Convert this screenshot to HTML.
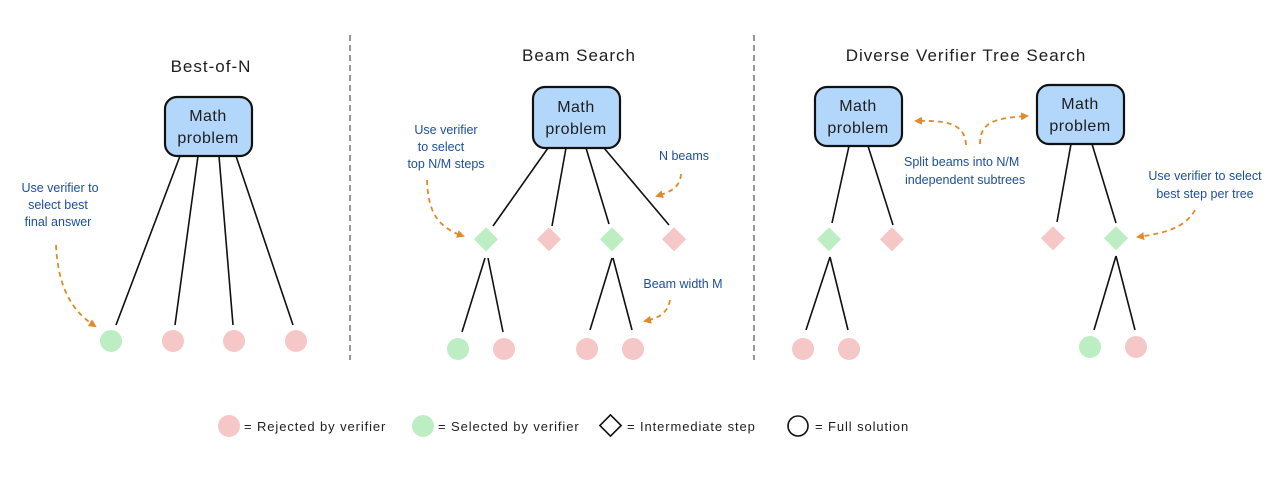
<!DOCTYPE html>
<html><head><meta charset="utf-8"><style>
html,body{margin:0;padding:0;background:#fff;}
svg{display:block;font-family:"Liberation Sans",sans-serif;}
.t{font-size:17px;fill:#1e1e1e;text-anchor:middle;letter-spacing:1px;}
.b{font-size:16px;fill:#1e1e1e;text-anchor:middle;letter-spacing:0.5px;}
.a{font-size:12.5px;fill:#1c4f9c;text-anchor:middle;}
.l{font-size:13px;fill:#1e1e1e;letter-spacing:0.9px;}
.ln{stroke:#111;stroke-width:1.6;fill:none;}
.ar{stroke:#e08a2a;stroke-width:1.8;fill:none;stroke-dasharray:5 4;}
.g{fill:#bdedc3;} .p{fill:#f6c7c7;}
.box{fill:#b3d7fb;stroke:#111;stroke-width:2.2;}
</style></head><body>
<svg width="1280" height="482" viewBox="0 0 1280 482">
<defs><marker id="h" markerWidth="8" markerHeight="8" refX="6" refY="4" orient="auto" markerUnits="userSpaceOnUse"><path d="M0,0 L8,4 L0,8 Z" fill="#e08a2a"/></marker></defs>
<line x1="350" y1="35" x2="350" y2="360" stroke="#777" stroke-width="1.5" stroke-dasharray="6 4"/>
<line x1="754" y1="35" x2="754" y2="360" stroke="#777" stroke-width="1.5" stroke-dasharray="6 4"/>

<text class="t" x="211" y="72">Best-of-N</text>
<rect class="box" x="165" y="97" width="87" height="59" rx="12"/>
<text class="b" x="208" y="121">Math</text><text class="b" x="208" y="143">problem</text>
<path class="ln" d="M180,156 L116,325 M198,156 L175,325 M219,156 L233,325 M236,156 L293,325"/>
<circle class="g" cx="111" cy="341" r="11"/><circle class="p" cx="173" cy="341" r="11"/><circle class="p" cx="234" cy="341" r="11"/><circle class="p" cx="296" cy="341" r="11"/>
<text class="a" x="60" y="192">Use verifier to</text><text class="a" x="58" y="209">select best</text><text class="a" x="58" y="226">final answer</text>
<path class="ar" d="M56,245 C58,285 70,310 95,326" marker-end="url(#h)"/>

<text class="t" x="579" y="61">Beam Search</text>
<rect class="box" x="533" y="87" width="87" height="61" rx="12"/>
<text class="b" x="576" y="112">Math</text><text class="b" x="576" y="134">problem</text>
<path class="ln" d="M548,148 L493,226 M566,148 L552,226 M586,148 L609,224 M604,148 L669,225"/>
<rect class="g" x="477" y="231" width="17" height="17" transform="rotate(45 486 240)"/>
<rect class="p" x="540" y="231" width="17" height="17" transform="rotate(45 549 240)"/>
<rect class="g" x="603" y="231" width="17" height="17" transform="rotate(45 612 240)"/>
<rect class="p" x="665" y="231" width="17" height="17" transform="rotate(45 674 240)"/>
<path class="ln" d="M485,258 L462,332 M488,258 L503,332 M612,258 L590,330 M613,258 L632,330"/>
<circle class="g" cx="458" cy="349" r="11"/><circle class="p" cx="504" cy="349" r="11"/><circle class="p" cx="587" cy="349" r="11"/><circle class="p" cx="633" cy="349" r="11"/>
<text class="a" x="446" y="134">Use verifier</text><text class="a" x="441" y="151">to select</text><text class="a" x="446" y="168">top N/M steps</text>
<path class="ar" d="M427,180 C428,215 440,228 463,236" marker-end="url(#h)"/>
<text class="a" x="684" y="160">N beams</text>
<path class="ar" d="M681,174 C680,188 670,192 657,196" marker-end="url(#h)"/>
<text class="a" x="683" y="288">Beam width M</text>
<path class="ar" d="M670,300 C668,312 660,318 645,321" marker-end="url(#h)"/>

<text class="t" x="966" y="61">Diverse Verifier Tree Search</text>
<rect class="box" x="815" y="87" width="87" height="59" rx="12"/>
<text class="b" x="858" y="111">Math</text><text class="b" x="858" y="133">problem</text>
<rect class="box" x="1037" y="85" width="87" height="59" rx="12"/>
<text class="b" x="1080" y="109">Math</text><text class="b" x="1080" y="131">problem</text>
<path class="ln" d="M849,146 L832,223 M868,146 L893,225 M830,257 L806,330 M830,257 L848,330 M1071,144 L1057,222 M1092,144 L1116,223 M1116,256 L1094,330 M1116,256 L1135,330"/>
<rect class="g" x="820" y="231" width="17" height="17" transform="rotate(45 829 240)"/>
<rect class="p" x="883" y="231" width="17" height="17" transform="rotate(45 892 240)"/>
<rect class="p" x="1044" y="230" width="17" height="17" transform="rotate(45 1053 239)"/>
<rect class="g" x="1107" y="230" width="17" height="17" transform="rotate(45 1116 239)"/>
<circle class="p" cx="803" cy="349" r="11"/><circle class="p" cx="849" cy="349" r="11"/><circle class="g" cx="1090" cy="347" r="11"/><circle class="p" cx="1136" cy="347" r="11"/>
<text class="a" x="904" y="166" style="text-anchor:start">Split beams into N/M</text>
<text class="a" x="905" y="184" style="text-anchor:start">independent subtrees</text>
<text class="a" x="1205" y="180">Use verifier to select</text><text class="a" x="1205" y="198">best step per tree</text>
<path class="ar" d="M966,145 C965,125 950,120 916,121" marker-end="url(#h)"/>
<path class="ar" d="M980,144 C980,122 995,118 1027,116" marker-end="url(#h)"/>
<path class="ar" d="M1195,210 C1185,228 1165,233 1138,237" marker-end="url(#h)"/>

<circle class="p" cx="229" cy="426" r="11"/><text class="l" x="244" y="431">= Rejected by verifier</text>
<circle class="g" cx="423" cy="426" r="11"/><text class="l" x="438" y="431">= Selected by verifier</text>
<rect x="603" y="418" width="15" height="15" fill="#fff" stroke="#111" stroke-width="1.6" transform="rotate(45 610.5 425.5)"/><text class="l" x="627" y="431">= Intermediate step</text>
<circle cx="798" cy="426" r="10" fill="#fff" stroke="#111" stroke-width="1.6"/><text class="l" x="815" y="431">= Full solution</text>
</svg>
</body></html>
